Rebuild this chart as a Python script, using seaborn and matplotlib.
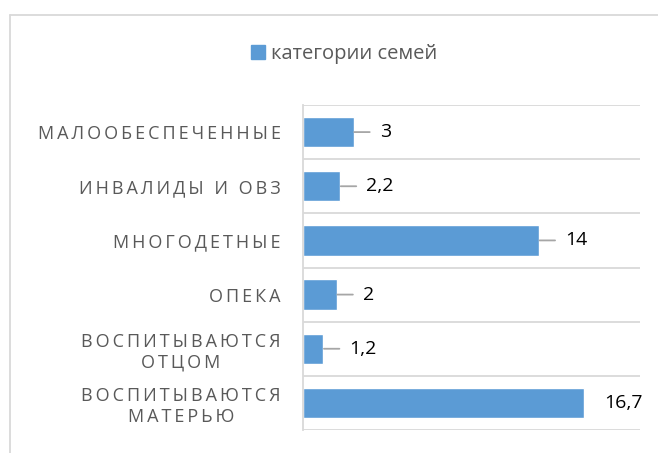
import matplotlib
matplotlib.use("Agg")
import matplotlib.pyplot as plt
import seaborn as sns
from matplotlib.lines import Line2D

# -------------------------------
# DATA
# -------------------------------

categories = [
    "МАЛООБЕСПЕЧЕННЫЕ",
    "ИНВАЛИДЫ И ОВЗ",
    "МНОГОДЕТНЫЕ",
    "ОПЕКА",
    "ВОСПИТЫВАЮТСЯ\nОТЦОМ",
    "ВОСПИТЫВАЮТСЯ\nМАТЕРЬЮ",
]
values = [3, 2.2, 14, 2, 1.2, 16.7]
value_labels = ["3", "2,2", "14", "2", "1,2", "16,7"]
series_name = "категории семей"

# -------------------------------
# STYLE
# -------------------------------

sns.set_style("white")
plt.rcParams["font.family"] = ["Open Sans", "DejaVu Sans"]

bar_color = "#5B9BD5"
grid_color = "#D9D9D9"
text_gray = "#595959"


def spaced(text):
    # Excel style letter spacing for the category labels
    lines = []
    for line in text.split("\n"):
        words = ["\u2009".join(w) for w in line.split(" ")]
        lines.append("\u2009 \u2009".join(words))
    return "\n".join(lines)


fig = plt.figure(figsize=(6.58, 4.53), dpi=100)
ax = fig.add_axes([303 / 658, 1 - 430 / 453, 337 / 658, 325 / 453])

sns.barplot(x=values, y=categories, color=bar_color, width=0.56,
            orient="h", ax=ax, label=series_name, saturation=1)

ax.set_xlim(0, 20)
ax.set_ylim(5.5, -0.5)
ax.set_xticks([])
ax.set_xlabel("")
ax.set_ylabel("")

ax.set_yticks(range(len(categories)))
ax.set_yticklabels([spaced(c) for c in categories], color=text_gray,
                   fontsize=13, multialignment="center", linespacing=1.2)
ax.tick_params(axis="y", length=0, pad=16)

# gridlines between categories
ax.set_yticks([i - 0.5 for i in range(len(categories) + 1)], minor=True)
ax.tick_params(axis="y", which="minor", length=0)
ax.grid(axis="y", which="minor", color=grid_color, linewidth=1.3)
ax.grid(axis="y", which="major", visible=False)

for side in ["top", "right", "bottom"]:
    ax.spines[side].set_visible(False)
ax.spines["left"].set_color(grid_color)
ax.spines["left"].set_linewidth(1.3)

# value labels with leader lines
for i, (v, lab) in enumerate(zip(values, value_labels)):
    if i == len(values) - 1:
        ax.annotate(lab, xy=(v, i), xytext=(14, 0), textcoords="offset points",
                    va="center", ha="left", fontsize=14, color="black")
    else:
        ax.annotate(lab, xy=(v, i), xytext=(19, 0), textcoords="offset points",
                    va="center", ha="left", fontsize=14, color="black",
                    arrowprops=dict(arrowstyle="-", color="#A6A6A6", lw=1.3,
                                    relpos=(0, 0.5), shrinkA=5, shrinkB=0.5))

# legend on top
handles = [plt.Rectangle((0, 0), 1, 1, color=bar_color)]
fig.legend(handles, [series_name], loc="center", bbox_to_anchor=(0.523, 0.881),
           frameon=False, fontsize=14.5, labelcolor=text_gray,
           handlelength=0.7, handleheight=0.7, handletextpad=0.3)
if ax.get_legend() is not None:
    ax.get_legend().remove()

# outer chart frame (top and left edges visible)
fig.add_artist(Line2D([10 / 658, 1], [1 - 15 / 453] * 2, color=grid_color, lw=1.3))
fig.add_artist(Line2D([10 / 658] * 2, [0, 1 - 15 / 453], color=grid_color, lw=1.3))

plt.savefig("out.png", dpi=100)
plt.close()
